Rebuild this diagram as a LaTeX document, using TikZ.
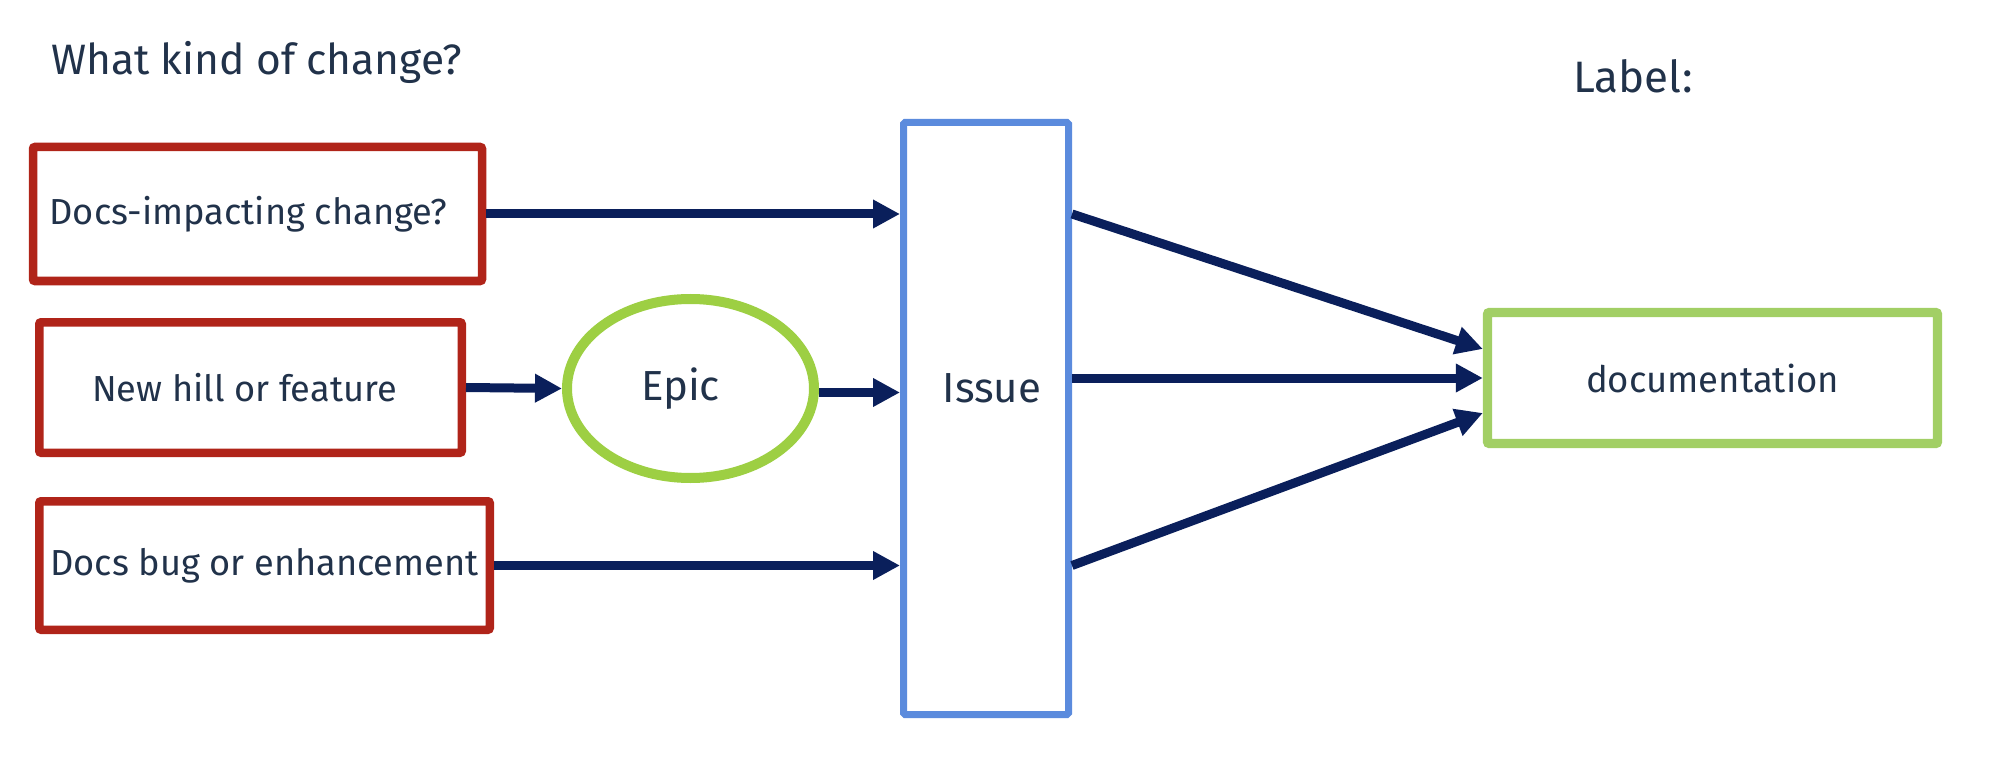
\documentclass[tikz,border=0pt]{standalone}
\usepackage{fontspec}
\setmainfont{Fira Sans}
\usetikzlibrary{arrows.meta,shapes.geometric,calc}
\definecolor{txtc}{HTML}{21324A}
\definecolor{redc}{HTML}{B02419}
\definecolor{greenc}{HTML}{9DCF43}
\definecolor{docgreen}{HTML}{A2CF65}
\definecolor{bluec}{HTML}{5B8BDD}
\definecolor{navyc}{HTML}{0A1F5B}
\tikzset{
  redbox/.style={draw=redc, line width=8.5pt, rounded corners=2pt, rectangle, inner sep=0pt, text=txtc, font=\fontsize{36.2}{39}\selectfont},
  epicell/.style={draw=greenc, line width=10pt, ellipse, inner sep=0pt, minimum width=247pt, minimum height=179pt, text=txtc, font=\fontsize{42}{45}\selectfont},
  issuebox/.style={draw=bluec, line width=7pt, rounded corners=1.5pt, rectangle, inner sep=0pt, minimum width=165pt, minimum height=592pt},
  docbox/.style={draw=docgreen, line width=9.3pt, rounded corners=2pt, rectangle, inner sep=0pt, minimum width=450pt, minimum height=131pt, text=txtc, font=\fontsize{36.5}{40}\selectfont},
  txt/.style={text=txtc, inner sep=0pt},
  arr/.style={draw=navyc, line width=9pt, -{Triangle[length=27pt,width=27pt]}}
}
\begin{document}
\begin{tikzpicture}[x=1pt,y=-1pt]
\useasboundingbox (0,0) rectangle (1998,762);
\node[txt, anchor=base west, font=\fontsize{42.5}{46}\selectfont] (title) at (51,75) {What kind of change?};
\node[txt, anchor=base west, font=\fontsize{44}{47}\selectfont] (label) at (1573,93) {Label:};
\node[redbox, minimum width=449pt, minimum height=134pt] (b1) at (257.5,214) {Docs-impacting change?\hspace*{18pt}};
\node[redbox, minimum width=422.5pt, minimum height=130.5pt] (b2) at (250.5,387.5) {New hill or feature\hspace*{12pt}};
\node[redbox, minimum width=450.5pt, minimum height=128.5pt] (b3) at (264.5,565.5) {Docs bug or enhancement};
\node[epicell] (epic) at (690.5,388.5) {\raisebox{3pt}{Epic}\hspace*{20pt}};
\node[issuebox] (issue) at (986,418.5) {};
\node[txt, font=\fontsize{42}{45}\selectfont] (issuet) at (992,388) {Issue};
\node[docbox] (doc) at (1712.5,378) {documentation};
\draw[arr] (b1.east) -- (b1.east -| issue.west);
\draw[arr] (b2.east) -- (epic.west);
\draw[arr] ([yshift=-4pt]epic.east) -- ([yshift=-4pt]epic.east -| issue.west);
\draw[arr] (b3.east) -- (b3.east -| issue.west);
\draw[arr] (issue.east |- b1.east) -- ([yshift=29pt]doc.west);
\draw[arr] (issue.east |- doc.west) -- (doc.west);
\draw[arr] (issue.east |- b3.east) -- ([yshift=-35pt]doc.west);
\end{tikzpicture}
\end{document}
